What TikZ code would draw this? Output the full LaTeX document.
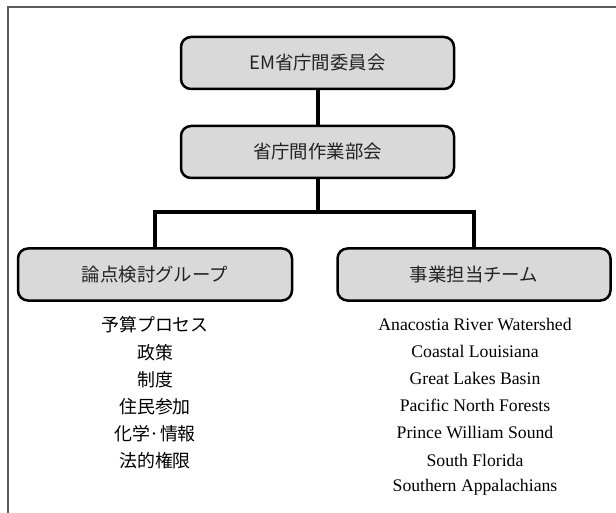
\documentclass[tikz,border=0pt]{standalone}
\usepackage{fontspec}
\setmainfont{Liberation Serif}
\newfontfamily\jpfont{Noto Sans CJK JP}
\definecolor{boxgray}{HTML}{D9D9D9}
\definecolor{framegray}{HTML}{5C5C5C}
\definecolor{boxtext}{HTML}{222222}
\tikzset{
  orgbox/.style={draw=black, line width=2.5pt, fill=boxgray, rounded corners=10pt,
    minimum width=273pt, minimum height=52pt, inner sep=0pt,
    text=boxtext, font=\jpfont\fontsize{18.4}{20}\selectfont},
  link/.style={draw=black, line width=4pt, line join=miter},
  jpitem/.style={inner sep=0pt, font=\jpfont\fontsize{17.9}{20}\selectfont},
  enitem/.style={inner sep=0pt, font=\fontsize{17.7}{20}\selectfont},
  frameline/.style={draw=framegray, line width=2pt}
}
\begin{document}
\begin{tikzpicture}[x=1pt,y=-1pt]
\useasboundingbox (0,0) rectangle (616,513);
% frame
\coordinate (ftr) at (616,7.5);
\coordinate (ftl) at (7.5,7.5);
\coordinate (fbl) at (7.5,513);
\draw[frameline] (ftr) -- (ftl) -- (fbl);
% boxes
\node[orgbox] (em) at (317.5,63) {EM省庁間委員会};
\node[orgbox] (wg) at (317.5,152) {省庁間作業部会};
\node[orgbox, minimum width=274pt] (ig) at (155,274.5) {論点検討グループ};
\node[orgbox] (tm) at (474,274.5) {事業担当チーム};
\coordinate (barm) at (317.5,212);
% connectors
\draw[link] (em.south) -- (wg.north);
\draw[link] (wg.south) -- (barm);
\draw[link] (ig.north) |- (barm) -| (tm.north);
% left list
\node[jpitem] (l1) at (155,325) {予算プロセス};
\node[jpitem] (l2) at (155,352.2) {政策};
\node[jpitem] (l3) at (155,379.4) {制度};
\node[jpitem] (l4) at (155,406.6) {住民参加};
\node[jpitem] (l5) at (155,433.8) {化学·情報};
\node[jpitem] (l6) at (155,461) {法的権限};
% right list
\node[enitem] (r1) at (475,324) {Anacostia River Watershed};
\node[enitem] (r2) at (475,351.2) {Coastal Louisiana};
\node[enitem] (r3) at (475,378.4) {Great Lakes Basin};
\node[enitem] (r4) at (475,405.6) {Pacific North Forests};
\node[enitem] (r5) at (475,432.8) {Prince William Sound};
\node[enitem] (r6) at (475,460) {South Florida};
\node[enitem] (r7) at (475,487.2) {Southern Appalachians};
\end{tikzpicture}
\end{document}
